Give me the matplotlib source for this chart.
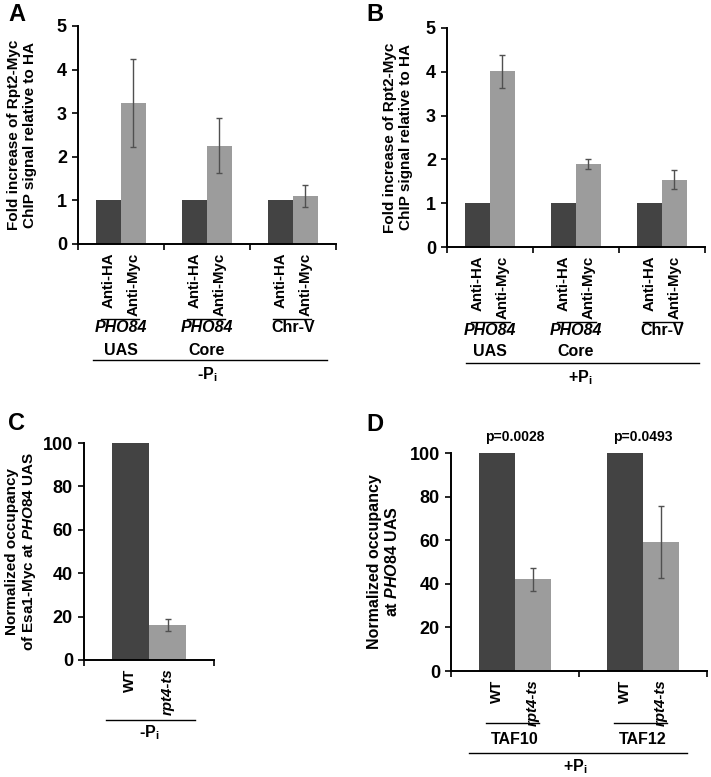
import matplotlib
matplotlib.use('Agg')
import matplotlib.pyplot as plt
import matplotlib.transforms as mtransforms
from matplotlib.lines import Line2D
import numpy as np

plt.rcParams['font.family'] = 'Liberation Sans'
plt.rcParams['font.weight'] = 'bold'
plt.rcParams['axes.labelweight'] = 'bold'
plt.rcParams['mathtext.fontset'] = 'custom'
plt.rcParams['mathtext.rm'] = 'Liberation Sans:bold'
plt.rcParams['mathtext.bf'] = 'Liberation Sans:bold'
plt.rcParams['mathtext.it'] = 'Liberation Sans:italic:bold'

W, H = 711, 777
DARK = '#434343'
LIGHT = '#9c9c9c'
ERRC = '#505050'

# panel A / B data (-Pi / +Pi)
sites_top = ['PHO84', 'PHO84', 'Chr-V']
sites_bottom = ['UAS', 'Core', '']
bar_names = ['Anti-HA', 'Anti-Myc']
a_ha = [1, 1, 1]
a_myc = [3.24, 2.25, 1.10]
a_myc_err = [1.01, 0.63, 0.25]
b_ha = [1, 1, 1]
b_myc = [4.01, 1.90, 1.54]
b_myc_err = [0.37, 0.11, 0.22]

# panel C / D data
strain_names = ['WT', 'rpt4-ts']
c_wt = [100]
c_rpt = [16]
c_rpt_err = [2.8]
d_groups = ['TAF10', 'TAF12']
d_wt = [100, 100]
d_rpt = [42, 59]
d_rpt_err = [5.3, 16.5]
d_pvals = ['p=0.0028', 'p=0.0493']

BW = 0.285

fig = plt.figure(figsize=(W / 100, H / 100), dpi=100)


def fy(py):
    return 1 - py / H


def make_axes(l, t, r, b):
    return fig.add_axes([l / W, fy(b), (r - l) / W, (b - t) / H])


def bars(ax, v1, v2, err, names, ymax, yticks, ysize):
    n = len(v1)
    x = np.arange(n)
    ax.bar(x - BW / 2, v1, BW, color=DARK, zorder=2)
    ax.bar(x + BW / 2, v2, BW, color=LIGHT, zorder=2)
    ax.errorbar(x + BW / 2, v2, yerr=err, fmt='none', ecolor=ERRC,
                elinewidth=1, capsize=2.5, capthick=1, zorder=3)
    ax.set_xlim(-0.5, n - 0.5)
    ax.set_ylim(0, ymax)
    ax.set_yticks(yticks, [str(v) for v in yticks], fontsize=ysize, fontweight='bold')
    pos = np.ravel(np.column_stack([x - BW / 2, x + BW / 2]))
    ax.set_xticks(pos, names * n, rotation=90, fontsize=10.8, fontweight='bold')
    ax.set_xticks(np.arange(n + 1) - 0.5, minor=True)
    ax.tick_params(axis='x', which='major', length=0, pad=6)
    ax.tick_params(axis='x', which='minor', length=4, width=1.2)
    ax.tick_params(axis='y', length=4, width=1.2, pad=4)
    for s in ['top', 'right']:
        ax.spines[s].set_visible(False)
    for s in ['left', 'bottom']:
        ax.spines[s].set_linewidth(1.4)
    for lab in ax.get_xticklabels():
        lab.set_fontweight('bold')
        if lab.get_text() == 'rpt4-ts':
            lab.set_fontstyle('italic')


def hline(ax, x0, x1, py, lw=1.0):
    tr = mtransforms.blended_transform_factory(ax.transData, fig.transFigure)
    ax.add_line(Line2D([x0, x1], [fy(py), fy(py)], transform=tr,
                       color='black', lw=lw, clip_on=False))


def label(ax, x, py, s, size=11.5, style='normal'):
    tr = mtransforms.blended_transform_factory(ax.transData, fig.transFigure)
    ax.text(x, fy(py), s, transform=tr, ha='center', va='center',
            fontsize=size, fontstyle=style, fontweight='bold', clip_on=False)


# ---- A ----
axA = make_axes(78, 26, 336, 244)
bars(axA, a_ha, a_myc, a_myc_err, bar_names, 5, range(6), 13)
axA.set_ylabel('Fold increase of Rpt2-Myc\nChIP signal relative to HA', fontsize=11, fontweight='bold')
axA.yaxis.set_label_coords(-0.16, 0.5)
for i in range(3):
    hline(axA, i - 0.23, i + 0.21, 319)
    label(axA, i, 328, sites_top[i], style='italic' if sites_top[i] == 'PHO84' else 'normal')
    if sites_bottom[i]:
        label(axA, i, 350, sites_bottom[i])
hline(axA, -0.33, 2.40, 360)
label(axA, 1.0, 375, r'-P$_\mathrm{i}$')

# ---- B ----
axB = make_axes(447, 28, 705, 247)
bars(axB, b_ha, b_myc, b_myc_err, bar_names, 5, range(6), 13)
axB.set_ylabel('Fold increase of Rpt2-Myc\nChIP signal relative to HA', fontsize=11, fontweight='bold')
axB.yaxis.set_label_coords(-0.132, 0.5)
for i in range(3):
    hline(axB, i - 0.22, i + 0.23, 322)
    label(axB, i, 331, sites_top[i], style='italic' if sites_top[i] == 'PHO84' else 'normal')
    if sites_bottom[i]:
        label(axB, i, 352, sites_bottom[i])
hline(axB, -0.28, 2.43, 363)
label(axB, 1.05, 378, r'+P$_\mathrm{i}$')

# ---- C ----
axC = make_axes(84, 443, 214, 660)
bars(axC, c_wt, c_rpt, c_rpt_err, strain_names, 100, list(range(0, 101, 20)), 13)
axC.set_ylabel('Normalized occupancy\nof Esa1-Myc at $\\mathit{PHO84}$ UAS', fontsize=11,
               fontweight='bold', linespacing=1.1)
axC.yaxis.set_label_coords(-0.35, 0.5)
hline(axC, -0.33, 0.35, 720)
label(axC, 0.0, 733, r'-P$_\mathrm{i}$')

# ---- D ----
axD = make_axes(451, 453, 707, 671)
bars(axD, d_wt, d_rpt, d_rpt_err, strain_names, 100, list(range(0, 101, 20)), 13)
axD.set_ylabel('Normalized occupancy\nat $\\mathit{PHO84}$ UAS', fontsize=11.5,
               fontweight='bold', linespacing=1.1)
axD.yaxis.set_label_coords(-0.2, 0.5)
for i in range(2):
    hline(axD, i - 0.23, i + 0.19, 723)
    label(axD, i, 740, d_groups[i])
    axD.text(i, 104, d_pvals[i], ha='center', va='bottom', fontsize=10,
             fontweight='bold', clip_on=False)
hline(axD, -0.36, 1.34, 753)
label(axD, 0.47, 767, r'+P$_\mathrm{i}$')

for letter, px, py in [('A', 8, 3), ('B', 366, 3), ('C', 8, 412), ('D', 366, 413)]:
    fig.text(px / W, fy(py), letter, fontsize=17, fontweight='bold', va='top', ha='left')

fig.savefig('out.png', dpi=100)
